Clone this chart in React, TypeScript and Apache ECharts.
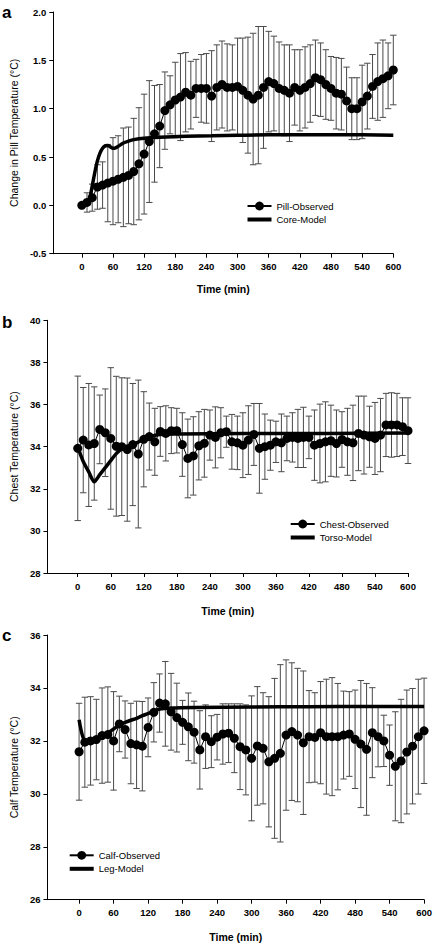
import React, { useEffect, useRef } from "react";
import * as echarts from "echarts";

// ---------- data ----------
const TIME = [
  0, 10, 20, 30, 40, 50, 60, 70, 80, 90,
  100, 110, 120, 130, 140, 150, 160, 170, 180, 190,
  200, 210, 220, 230, 240, 250, 260, 270, 280, 290,
  300, 310, 320, 330, 340, 350, 360, 370, 380, 390,
  400, 410, 420, 430, 440, 450, 460, 470, 480, 490,
  500, 510, 520, 530, 540, 550, 560, 570, 580, 590,
  600,
];
const X_TICKS = [0, 60, 120, 180, 240, 300, 360, 420, 480, 540, 600];

// Panel a: change in pill temperature
const PILL_MEAN = [
  0.0, 0.03, 0.08, 0.19, 0.21, 0.23, 0.25, 0.27, 0.29, 0.31,
  0.35, 0.43, 0.53, 0.66, 0.74, 0.82, 0.98, 1.04, 1.09, 1.12,
  1.17, 1.14, 1.21, 1.21, 1.21, 1.13, 1.22, 1.25, 1.22, 1.22,
  1.23, 1.19, 1.14, 1.1, 1.14, 1.22, 1.28, 1.26, 1.21, 1.19,
  1.16, 1.22, 1.19, 1.22, 1.26, 1.32, 1.3, 1.25, 1.21, 1.16,
  1.15, 1.08, 1.0, 1.0, 1.07, 1.13, 1.23, 1.28, 1.31, 1.34,
  1.4,
];
const PILL_SD = [
  0, 0.1, 0.14, 0.23, 0.24, 0.4, 0.45, 0.45, 0.51, 0.5,
  0.55, 0.58, 0.62, 0.63, 0.5, 0.43, 0.4, 0.3, 0.39, 0.45,
  0.41, 0.35, 0.3, 0.35, 0.36, 0.47, 0.44, 0.45, 0.45, 0.44,
  0.5, 0.54, 0.6, 0.68, 0.71, 0.63, 0.52, 0.49, 0.48, 0.47,
  0.5, 0.39, 0.42, 0.42, 0.4, 0.39, 0.38, 0.36, 0.33, 0.37,
  0.37, 0.35, 0.32, 0.32, 0.38, 0.34, 0.33, 0.4, 0.4, 0.34,
  0.36,
];
const CORE_T = [0, 10, 15, 20, 25, 30, 35, 40, 45, 50, 55, 60, 65, 70, 80, 90, 100, 120, 150, 200, 250, 300, 360, 420, 480, 540, 600];
const CORE_V = [0, 0.02, 0.07, 0.2, 0.34, 0.46, 0.54, 0.59, 0.615, 0.62, 0.605, 0.59, 0.595, 0.61, 0.645, 0.665, 0.68, 0.695, 0.705, 0.715, 0.72, 0.725, 0.73, 0.73, 0.73, 0.73, 0.725];

// Panel b: chest temperature
const CHEST_MEAN = [
  33.92, 34.31, 34.08, 34.15, 34.82, 34.66, 34.39, 34.02, 34.0, 33.86,
  34.1, 33.65, 34.35, 34.48, 34.23, 34.72, 34.63, 34.76, 34.76, 34.1,
  33.44, 33.56, 34.04, 34.16, 34.55, 34.44, 34.66, 34.71, 34.23, 34.18,
  34.07, 34.31, 34.58, 33.92, 34.0, 34.07, 34.23, 34.18, 34.39, 34.44,
  34.39, 34.44, 34.44, 34.07, 34.15, 34.23, 34.28, 34.15, 34.34, 34.23,
  34.18, 34.63, 34.55, 34.47, 34.39, 34.55, 35.03, 35.03, 35.03, 34.95,
  34.76,
];
const CHEST_SD = [
  3.43, 2.5, 2.92, 2.69, 1.63, 2.08, 3.36, 3.32, 3.27, 3.4,
  2.9, 3.51, 2.26, 1.59, 1.59, 1.18, 1.31, 1.09, 1.06, 1.51,
  1.87, 1.86, 1.62, 1.61, 1.19, 1.45, 1.19, 0.74, 1.3, 1.27,
  1.54, 1.63, 1.47, 2.13, 1.55, 1.19, 0.98, 1.37, 1.06, 1.17,
  1.38, 1.43, 1.01, 1.67, 1.87, 1.9, 1.69, 1.59, 1.32, 1.59,
  1.79, 1.77, 1.85, 1.45, 1.71, 1.74, 1.5, 1.53, 1.5, 1.37,
  1.56,
];
const TORSO_T = [0, 5, 10, 20, 30, 40, 50, 60, 70, 80, 90, 100, 110, 120, 130, 145, 180, 300, 450, 600];
const TORSO_V = [34.0, 33.62, 33.3, 32.8, 32.33, 32.67, 33.0, 33.34, 33.67, 33.9, 34.02, 34.1, 34.22, 34.35, 34.45, 34.57, 34.6, 34.62, 34.63, 34.65];

// Panel c: calf temperature
const CALF_MEAN = [
  31.59, 31.95, 32.0, 32.05, 32.2, 32.24, 32.0, 32.64, 32.43, 31.9,
  31.85, 31.8, 32.51, 33.08, 33.43, 33.4, 33.1, 32.88, 32.7, 32.53,
  32.33, 31.66, 32.16, 31.97, 32.14, 32.26, 32.29, 32.1, 31.78, 31.66,
  31.34, 31.81, 31.72, 31.21, 31.34, 31.53, 32.22, 32.35, 32.22, 31.93,
  32.16, 32.13, 32.31, 32.16, 32.16, 32.16, 32.22, 32.26, 32.06, 31.88,
  31.68, 32.31, 32.16, 32.0, 31.46, 31.04, 31.24, 31.58, 31.8, 32.16,
  32.38,
];
const CALF_SD = [
  1.83, 1.7, 1.67, 1.52, 1.8, 1.8, 1.86, 1.05, 1.08, 1.52,
  1.65, 1.69, 1.11, 1.12, 1.1, 1.6, 1.45, 1.3, 0.83, 1.28,
  1.17, 1.48, 1.2, 0.98, 0.86, 1.14, 1.11, 1.3, 1.62, 1.7,
  2.36, 2.24, 2.1, 2.46, 3.02, 3.35, 2.84, 2.6, 2.52, 2.71,
  1.74, 1.69, 1.93, 2.17, 2.23, 2.01, 1.66, 1.6, 1.86, 2.4,
  2.49, 1.7, 1.14, 0.97, 1.14, 2.06, 2.33, 2.34, 2.18, 2.17,
  1.99,
];
const LEG_T = [0, 10, 20, 30, 40, 50, 60, 70, 80, 90, 100, 110, 120, 130, 140, 160, 200, 300, 400, 500, 600];
const LEG_V = [32.8, 32.0, 32.05, 32.1, 32.2, 32.3, 32.45, 32.6, 32.7, 32.78, 32.85, 32.95, 33.03, 33.12, 33.2, 33.24, 33.26, 33.28, 33.29, 33.3, 33.3];

// ---------- styling ----------
const FONT = 'Arial, "Liberation Sans", Helvetica, sans-serif';
const BAR_ICON = "path://M0,0L24,0L24,4L0,4Z";
const GRIDS = [
  { left: 47, top: 12, width: 346.3, height: 241.7 },
  { left: 46.5, top: 320.3, width: 361.5, height: 252.7 },
  { left: 46, top: 635, width: 380, height: 264.7 },
];

function xAxis(gridIndex: number, nameGap: number) {
  return {
    type: "value",
    gridIndex,
    min: -55,
    max: 600,
    name: "Time (min)",
    nameLocation: "middle",
    nameGap,
    nameTextStyle: { fontFamily: FONT, fontSize: 10.5, fontWeight: "bold", color: "#000" },
    axisLine: { show: true, onZero: false, lineStyle: { color: "#000", width: 1 } },
    axisTick: { show: true, length: 4, customValues: X_TICKS, lineStyle: { color: "#000", width: 1 } },
    axisLabel: { customValues: X_TICKS, margin: 8, fontFamily: FONT, fontSize: 9.5, fontWeight: "bold", color: "#000" },
    splitLine: { show: false },
  };
}

function yAxis(gridIndex: number, min: number, max: number, interval: number, name: string, nameGap: number, digits: number) {
  return {
    type: "value",
    gridIndex,
    min,
    max,
    interval,
    name,
    nameLocation: "middle",
    nameGap,
    nameTextStyle: { fontFamily: FONT, fontSize: 10.5, color: "#000" },
    axisLine: { show: true, onZero: false, lineStyle: { color: "#000", width: 1 } },
    axisTick: { show: true, length: 4, lineStyle: { color: "#000", width: 1 } },
    axisLabel: {
      margin: 7,
      fontFamily: FONT,
      fontSize: 9.5,
      fontWeight: "bold",
      color: "#000",
      formatter: (v: number) => v.toFixed(digits),
    },
    splitLine: { show: false },
  };
}

function errorSeries(idx: number, mean: number[], sd: number[]) {
  return {
    type: "custom",
    xAxisIndex: idx,
    yAxisIndex: idx,
    silent: true,
    z: 1,
    data: TIME.map((t, i) => [t, mean[i], sd[i]]),
    encode: { x: 0, y: 1 },
    renderItem: (_params: any, api: any) => {
      const t = api.value(0);
      const m = api.value(1);
      const s = api.value(2);
      if (!s) return { type: "group", children: [] };
      const top = api.coord([t, m + s]);
      const bot = api.coord([t, m - s]);
      const hw = 3.2;
      const style = { stroke: "#4a4a4a", lineWidth: 1, fill: null };
      return {
        type: "group",
        children: [
          { type: "line", shape: { x1: top[0], y1: top[1], x2: bot[0], y2: bot[1] }, style },
          { type: "line", shape: { x1: top[0] - hw, y1: top[1], x2: top[0] + hw, y2: top[1] }, style },
          { type: "line", shape: { x1: bot[0] - hw, y1: bot[1], x2: bot[0] + hw, y2: bot[1] }, style },
        ],
      };
    },
  };
}

function observedSeries(idx: number, name: string, mean: number[]) {
  return {
    type: "line",
    name,
    xAxisIndex: idx,
    yAxisIndex: idx,
    data: TIME.map((t, i) => [t, mean[i]]),
    symbol: "circle",
    symbolSize: 9,
    showAllSymbol: true,
    itemStyle: { color: "#000" },
    lineStyle: { color: "#000", width: 1 },
    z: 3,
  };
}

function modelSeries(idx: number, name: string, ts: number[], vs: number[]) {
  return {
    type: "line",
    name,
    xAxisIndex: idx,
    yAxisIndex: idx,
    data: ts.map((t, i) => [t, vs[i]]),
    symbol: "none",
    showSymbol: false,
    smooth: 0.25,
    itemStyle: { color: "#000" },
    lineStyle: { color: "#000", width: 3.5 },
    z: 2,
  };
}

function legend(observed: string, model: string, left: number, top: number) {
  return {
    data: [{ name: observed }, { name: model, icon: BAR_ICON }],
    orient: "vertical",
    left,
    top,
    padding: 0,
    itemWidth: 24,
    itemHeight: 11,
    itemGap: 2.5,
    symbolKeepAspect: true,
    selectedMode: false,
    textStyle: { fontFamily: FONT, fontSize: 9.5, color: "#000", lineHeight: 11 },
  };
}

function panelLetter(text: string, y: number) {
  return {
    type: "text",
    x: 2,
    y,
    style: { text, font: `bold 17px ${FONT}`, fill: "#000", verticalAlign: "middle" },
  };
}

export default function App() {
  const ref = useRef<HTMLDivElement>(null);
  useEffect(() => {
    if (!ref.current) return;
    const chart = echarts.init(ref.current, null, { renderer: "svg" });
    chart.setOption({
      animation: false,
      backgroundColor: "#fff",
      grid: GRIDS,
      xAxis: [xAxis(0, 30), xAxis(1, 32), xAxis(2, 32)],
      yAxis: [
        yAxis(0, -0.5, 2.0, 0.5, "Change in Pill Temperature (°C)", 24, 1),
        yAxis(1, 28, 40, 2, "Chest Temperature (°C)", 27, 0),
        yAxis(2, 26, 36, 2, "Calf Temperature (°C)", 26, 0),
      ],
      legend: [
        legend("Pill-Observed", "Core-Model", 246.5, 200.5),
        legend("Chest-Observed", "Torso-Model", 289.7, 518.5),
        legend("Calf-Observed", "Leg-Model", 68.7, 849.8),
      ],
      graphic: [panelLetter("a", 12), panelLetter("b", 322), panelLetter("c", 635)],
      series: [
        errorSeries(0, PILL_MEAN, PILL_SD),
        modelSeries(0, "Core-Model", CORE_T, CORE_V),
        observedSeries(0, "Pill-Observed", PILL_MEAN),
        errorSeries(1, CHEST_MEAN, CHEST_SD),
        modelSeries(1, "Torso-Model", TORSO_T, TORSO_V),
        observedSeries(1, "Chest-Observed", CHEST_MEAN),
        errorSeries(2, CALF_MEAN, CALF_SD),
        modelSeries(2, "Leg-Model", LEG_T, LEG_V),
        observedSeries(2, "Calf-Observed", CALF_MEAN),
      ],
    });
    return () => chart.dispose();
  }, []);
  return (
    <div
      ref={ref}
      style={{ position: "absolute", left: 0, top: 0, width: 435, height: 945, background: "#fff" }}
    />
  );
}
